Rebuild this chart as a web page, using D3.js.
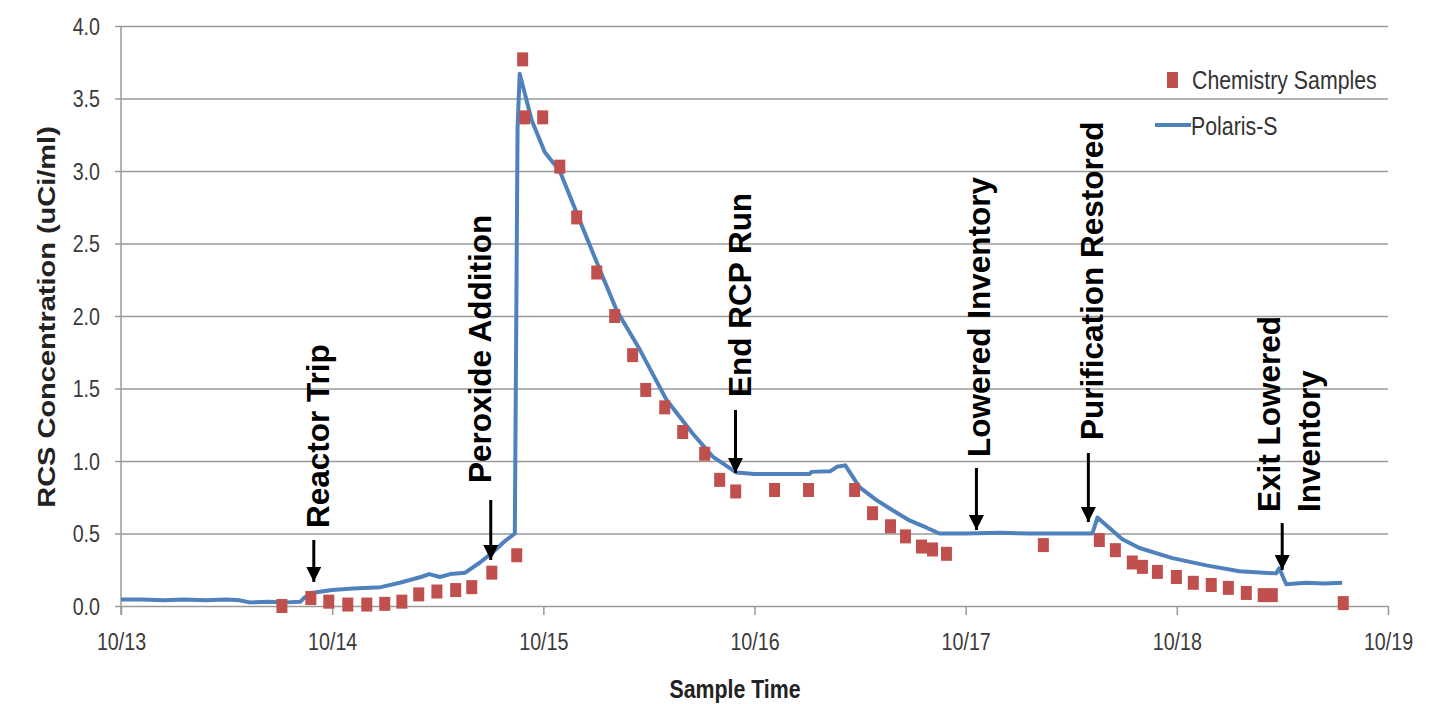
<!DOCTYPE html>
<html>
<head>
<meta charset="utf-8">
<script src="https://cdn.jsdelivr.net/npm/d3@7"></script>
<style>
  body { margin: 0; background: #fff; }
  svg { display: block; font-family: "Liberation Sans", Arial, sans-serif; }
</style>
</head>
<body>
<svg id="chart" width="1444" height="704"></svg>
<script>
"use strict";

// x values are days of October (10/13 = 13.0)
const xTicks = [13, 14, 15, 16, 17, 18, 19]
const yTicks = [0, 0.5, 1, 1.5, 2, 2.5, 3, 3.5, 4]

// Polaris-S on-line monitor trace [day, uCi/ml]
const polarisDay = [13.00, 13.10, 13.20, 13.30, 13.40, 13.50, 13.56, 13.61, 13.70, 13.78, 13.85, 13.87, 13.90,
    14.00, 14.10, 14.23, 14.32, 14.42, 14.46, 14.51, 14.56, 14.63, 14.70, 14.76, 14.82, 14.865, 14.872, 14.878,
    14.888, 14.945, 15.007, 15.078, 15.158, 15.253, 15.347, 15.456, 15.584, 15.707, 15.802, 15.915, 16.00, 16.12,
    16.26, 16.27, 16.36, 16.39, 16.43, 16.497, 16.578, 16.654, 16.734, 16.815, 16.876, 17.00, 17.16, 17.30, 17.45,
    17.60, 17.624, 17.742, 17.823, 17.979, 18.14, 18.296, 18.47, 18.485, 18.518, 18.613, 18.70, 18.783]
const polarisVal = [0.045, 0.045, 0.04, 0.045, 0.04, 0.045, 0.04, 0.025, 0.03, 0.025, 0.03, 0.06, 0.09,
    0.11, 0.12, 0.13, 0.16, 0.20, 0.22, 0.20, 0.22, 0.23, 0.30, 0.37, 0.45, 0.50, 2.0, 3.3,
    3.67, 3.35, 3.13, 3.00, 2.71, 2.37, 2.04, 1.77, 1.42, 1.19, 1.03, 0.92, 0.91, 0.91,
    0.91, 0.925, 0.93, 0.96, 0.97, 0.82, 0.73, 0.66, 0.59, 0.54, 0.50, 0.50, 0.505, 0.50, 0.50,
    0.50, 0.61, 0.46, 0.40, 0.33, 0.28, 0.24, 0.225, 0.26, 0.15, 0.16, 0.155, 0.16]

// chemistry grab samples [day, uCi/ml]
const sampleDay = [13.762, 13.899, 13.984, 14.074, 14.164, 14.249, 14.330, 14.410, 14.496, 14.585, 14.661,
    14.756, 14.874, 14.902, 14.912, 14.997, 15.078, 15.158, 15.253, 15.338, 15.423, 15.485, 15.575, 15.660,
    15.764, 15.835, 15.911, 16.095, 16.256, 16.474, 16.559, 16.644, 16.715, 16.791, 16.843, 16.909, 17.368,
    17.633, 17.709, 17.789, 17.837, 17.908, 17.998, 18.078, 18.163, 18.244, 18.329, 18.409, 18.452, 18.788]
const sampleVal = [0.0, 0.055, 0.03, 0.01, 0.01, 0.015, 0.03, 0.08, 0.10, 0.11, 0.13,
    0.23, 0.35, 3.77, 3.37, 3.37, 3.03, 2.68, 2.30, 2.00, 1.73, 1.49, 1.37, 1.20,
    1.05, 0.87, 0.79, 0.80, 0.80, 0.80, 0.64, 0.55, 0.48, 0.41, 0.39, 0.36, 0.42,
    0.455, 0.385, 0.30, 0.27, 0.235, 0.20, 0.16, 0.145, 0.125, 0.09, 0.075, 0.075, 0.02]

// event annotations: arrow at day, from tail value down to tip value; text starts at textVal
const eventLabels = [["Reactor Trip"], ["Peroxide Addition"], ["End RCP Run"], ["Lowered Inventory"],
    ["Purification Restored"], ["Exit Lowered", "Inventory"]]
const eventDay = [13.913, 14.751, 15.910, 17.051, 17.581, 18.499]
const eventTail = [0.455, 0.731, 1.352, 0.952, 1.055, 0.572]
const eventTip = [0.166, 0.317, 0.917, 0.524, 0.579, 0.248]
const eventTextDay = [13.932, 14.699, 15.929, 17.065, 17.600, 18.438]
const eventTextVal = [0.538, 0.848, 1.441, 1.028, 1.145, 0.648]

const BLUE = "#4f81bd"
const RED = "#c0504d"
const GRID = "#9a9a9a"
const SQUEEZE = 0.82 // the source picture is squashed horizontally

const svg = d3.select("#chart")
const plotLeft = 121, plotTop = 26, plotRight = 1388, plotBottom = 606

const x = d3.scaleLinear().domain([13, 19]).range([plotLeft, plotRight])
const y = d3.scaleLinear().domain([0, 4]).range([plotBottom, plotTop])

// gridlines
svg.append("g")
    .attr("transform", `translate(${plotLeft - 6},0)`)
    .call(d3.axisRight(y).tickValues(yTicks).tickSize(plotRight - plotLeft + 6).tickFormat(""))
    .call(g => g.select(".domain").remove())
    .call(g => g.selectAll("line").attr("stroke", GRID).attr("stroke-width", 1.5))

// y axis labels
svg.append("g")
    .attr("transform", `translate(${plotLeft},0)`)
    .call(d3.axisLeft(y).tickValues(yTicks).tickSize(0).tickFormat(d3.format(".1f")))
    .call(g => g.select(".domain").remove())
    .call(g => g.selectAll("text")
        .attr("x", null).attr("dy", "0.35em")
        .attr("transform", `translate(-21,0) scale(${SQUEEZE},1)`)
        .attr("font-size", 24).attr("fill", "#3a3a3a")
        .attr("font-family", "Liberation Sans, Arial, sans-serif"))

svg.append("line")
    .attr("x1", plotLeft).attr("x2", plotLeft)
    .attr("y1", plotTop).attr("y2", plotBottom + 9)
    .attr("stroke", GRID).attr("stroke-width", 1.5)

// x axis
svg.append("g")
    .attr("transform", `translate(0,${plotBottom})`)
    .call(d3.axisBottom(x).tickValues(xTicks).tickSize(9).tickFormat(d => `10/${d}`))
    .call(g => g.select(".domain").remove())
    .call(g => g.selectAll("line").attr("stroke", GRID).attr("stroke-width", 1.5))
    .call(g => g.selectAll("text")
        .attr("y", 44).attr("dy", null)
        .attr("transform", `scale(${SQUEEZE},1)`)
        .attr("font-size", 24).attr("fill", "#3a3a3a")
        .attr("font-family", "Liberation Sans, Arial, sans-serif"))

// axis titles
svg.append("text")
    .attr("transform", `translate(735,698) scale(${SQUEEZE},1)`)
    .attr("text-anchor", "middle")
    .attr("font-size", 26).attr("font-weight", "bold").attr("fill", "#222")
    .text("Sample Time")

svg.append("text")
    .attr("transform", `translate(55,317) rotate(-90) scale(1,${SQUEEZE})`)
    .attr("text-anchor", "middle")
    .attr("font-size", 29).attr("font-weight", "bold").attr("fill", "#222")
    .text("RCS Concentration (uCi/ml)")

// Polaris-S line
const polaris = polarisDay.map((d, i) => [d, polarisVal[i]])
svg.append("path")
    .datum(polaris)
    .attr("fill", "none")
    .attr("stroke", BLUE)
    .attr("stroke-width", 4)
    .attr("stroke-linejoin", "round")
    .attr("d", d3.line().x(d => x(d[0])).y(d => y(d[1])))

// chemistry samples
const samples = sampleDay.map((d, i) => [d, sampleVal[i]])
const SQ_W = 11, SQ_H = 14
svg.append("g")
    .selectAll("rect")
    .data(samples)
    .join("rect")
    .attr("x", d => x(d[0]) - SQ_W / 2)
    .attr("y", d => y(d[1]) - SQ_H / 2)
    .attr("width", SQ_W)
    .attr("height", SQ_H)
    .attr("fill", RED)

// legend
const legend = svg.append("g")
legend.append("rect")
    .attr("x", 1167).attr("y", 72).attr("width", 11).attr("height", 16)
    .attr("fill", RED)
legend.append("line")
    .attr("x1", 1155).attr("x2", 1191).attr("y1", 125).attr("y2", 125)
    .attr("stroke", BLUE).attr("stroke-width", 4)
legend.append("text")
    .attr("transform", `translate(1192,89) scale(${SQUEEZE},1)`)
    .attr("font-size", 26).attr("fill", "#333")
    .text("Chemistry Samples")
legend.append("text")
    .attr("transform", `translate(1191,135) scale(${SQUEEZE},1)`)
    .attr("font-size", 26).attr("fill", "#333")
    .text("Polaris-S")

// annotations
svg.append("defs").append("marker")
    .attr("id", "arrow")
    .attr("viewBox", "0 0 10 10")
    .attr("refX", 10).attr("refY", 5)
    .attr("markerUnits", "userSpaceOnUse")
    .attr("markerWidth", 15).attr("markerHeight", 15)
    .attr("orient", "auto")
    .append("path")
    .attr("d", "M0,0L10,5L0,10Z")
    .attr("fill", "#000")

const ann = svg.append("g")
eventLabels.forEach((lines, i) => {
    ann.append("line")
        .attr("x1", x(eventDay[i])).attr("x2", x(eventDay[i]))
        .attr("y1", y(eventTail[i])).attr("y2", y(eventTip[i]))
        .attr("stroke", "#000").attr("stroke-width", 3)
        .attr("marker-end", "url(#arrow)")
    lines.forEach((line, j) => {
        ann.append("text")
            .attr("transform", `translate(${x(eventTextDay[i]) + j * 40},${y(eventTextVal[i])}) rotate(-90)`)
            .attr("dy", "0.35em")
            .attr("font-size", 31.5).attr("font-weight", "bold").attr("fill", "#000")
            .text(line)
    })
})
</script>
</body>
</html>
